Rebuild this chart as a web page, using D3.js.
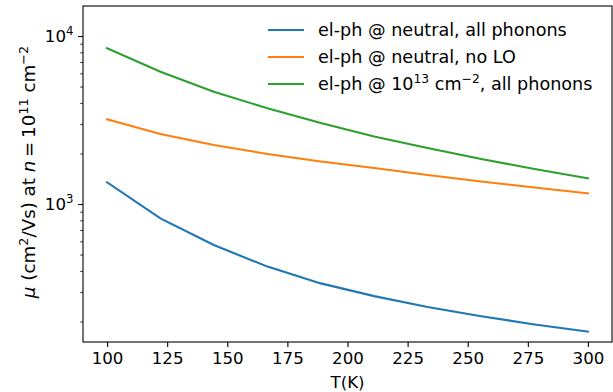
<!DOCTYPE html>
<html>
<head>
<meta charset="utf-8">
<script src="https://cdn.jsdelivr.net/npm/d3@7"></script>
<style>
  body { margin: 0; background: #fff; }
  svg { font-family: "DejaVu Sans", sans-serif; }
</style>
</head>
<body>
<svg id="chart" width="613" height="392"></svg>
<script>
// temperatures (K)
var temps = [100, 122.2, 144.4, 166.7, 188.9, 211.1, 233.3, 255.6, 277.8, 300];
// mobilities
var allPhonons = [1346, 822, 570, 424, 337, 283, 244, 215, 192, 174];
var noLO = [3190, 2610, 2244, 1986, 1791, 1638, 1489, 1361, 1254, 1158];
var highDoping = [8460, 6130, 4656, 3717, 3033, 2524, 2154, 1854, 1616, 1422];
var xTicks = [100, 125, 150, 175, 200, 225, 250, 275, 300];
var yMajor = [1000, 10000];
var yMinor = [200, 300, 400, 500, 600, 700, 800, 900, 2000, 3000, 4000, 5000, 6000, 7000, 8000, 9000];

var seriesList = [
  { name: "all", values: allPhonons, color: "#1f77b4" },
  { name: "noLO", values: noLO, color: "#ff7f0e" },
  { name: "doped", values: highDoping, color: "#2ca02c" }
];

var plotL = 83, plotR = 612, plotT = 6, plotB = 342;
var fs = 16.67, sup = 11.7;
var lfs = 17.6, lsup = 12.3;
var yfs = 18.3, ysup = 12.8;

var svg = d3.select("#chart");

var x = d3.scaleLinear().domain([90, 310]).range([plotL, plotR]);
var y = d3.scaleLog().domain([150.9, 15090]).range([plotB, plotT]);

var line = d3.line()
  .x(function (d) { return x(d[0]); })
  .y(function (d) { return y(d[1]); });

seriesList.forEach(function (s) {
  svg.append("path")
    .datum(temps.map(function (t, i) { return [t, s.values[i]]; }))
    .attr("fill", "none")
    .attr("stroke", s.color)
    .attr("stroke-width", 2.1)
    .attr("stroke-linecap", "square")
    .attr("d", line);
});

// x axis
var xAxis = svg.append("g")
  .attr("transform", "translate(0," + plotB + ")")
  .call(d3.axisBottom(x).tickValues(xTicks).tickSize(4.9).tickPadding(4.9).tickFormat(d3.format("d")));
xAxis.select(".domain").remove();
xAxis.selectAll("line").attr("stroke", "#000").attr("stroke-width", 1.1);
xAxis.selectAll("text").attr("font-size", fs).attr("fill", "#000")
  .attr("font-family", "DejaVu Sans");

// y axis, major ticks with superscript labels
var yAxis = svg.append("g")
  .attr("transform", "translate(" + plotL + ",0)")
  .call(d3.axisLeft(y).tickValues(yMajor).tickSize(4.9).tickPadding(4.9).tickFormat(""));
yAxis.select(".domain").remove();
yAxis.selectAll("line").attr("stroke", "#000").attr("stroke-width", 1.1);
yAxis.selectAll(".tick").each(function (d) {
  var t = d3.select(this).append("text")
    .attr("x", -9.5)
    .attr("dy", "0.35em")
    .attr("text-anchor", "end")
    .attr("font-size", fs)
    .attr("font-family", "DejaVu Sans")
    .attr("fill", "#000");
  t.append("tspan").text("10");
  t.append("tspan").attr("font-size", sup).attr("dy", -7).text(Math.round(Math.log10(d)));
});

var yMinorAxis = svg.append("g")
  .attr("transform", "translate(" + plotL + ",0)")
  .call(d3.axisLeft(y).tickValues(yMinor).tickSize(2.8).tickFormat(""));
yMinorAxis.select(".domain").remove();
yMinorAxis.selectAll("line").attr("stroke", "#000").attr("stroke-width", 0.8);

// frame
svg.append("rect")
  .attr("x", plotL).attr("y", plotT)
  .attr("width", plotR - plotL).attr("height", plotB - plotT)
  .attr("fill", "none").attr("stroke", "#000").attr("stroke-width", 1.1);

// axis titles
svg.append("text")
  .attr("x", (plotL + plotR) / 2).attr("y", 388)
  .attr("text-anchor", "middle").attr("font-size", fs)
  .text("T(K)");

var yl = svg.append("text")
  .attr("transform", "translate(35,172) rotate(-90)")
  .attr("text-anchor", "middle").attr("font-size", yfs);
yl.append("tspan").attr("font-style", "italic").text("μ");
yl.append("tspan").text(" (cm");
yl.append("tspan").attr("font-size", ysup).attr("dy", -7).text("2");
yl.append("tspan").attr("dy", 7).text("/Vs) at ");
yl.append("tspan").attr("font-style", "italic").text("n");
yl.append("tspan").text("\u2009=\u200910");
yl.append("tspan").attr("font-size", ysup).attr("dy", -7).text("11");
yl.append("tspan").attr("dy", 7).text(" cm");
yl.append("tspan").attr("font-size", ysup).attr("dy", -7).text("−2");

// legend
var legendRows = [30, 57, 84];
var lg = svg.append("g");
seriesList.forEach(function (s, i) {
  lg.append("line")
    .attr("x1", 268).attr("x2", 304)
    .attr("y1", legendRows[i]).attr("y2", legendRows[i])
    .attr("stroke", s.color).attr("stroke-width", 2.1);
});
lg.append("text").attr("x", 318).attr("y", legendRows[0]).attr("dy", "0.35em")
  .attr("font-size", lfs).text("el-ph @ neutral, all phonons");
lg.append("text").attr("x", 318).attr("y", legendRows[1]).attr("dy", "0.35em")
  .attr("font-size", lfs).text("el-ph @ neutral, no LO");
var l3 = lg.append("text").attr("x", 318).attr("y", legendRows[2]).attr("dy", "0.35em")
  .attr("font-size", lfs);
l3.append("tspan").text("el-ph @ 10");
l3.append("tspan").attr("font-size", lsup).attr("dy", -7).text("13");
l3.append("tspan").attr("dy", 7).text(" cm");
l3.append("tspan").attr("font-size", lsup).attr("dy", -7).text("−2");
l3.append("tspan").attr("dy", 7).text(", all phonons");
</script>
</body>
</html>
